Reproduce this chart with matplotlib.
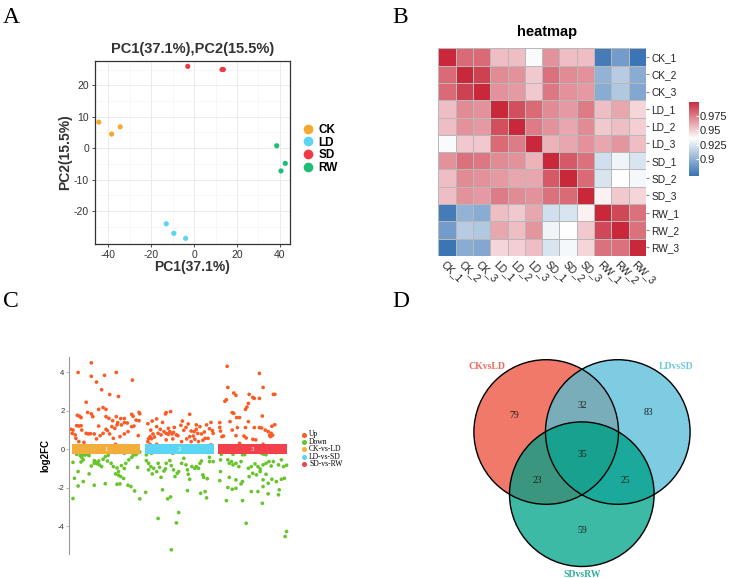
import numpy as np
import matplotlib
matplotlib.use("Agg")
import matplotlib.pyplot as plt
from matplotlib.colors import LinearSegmentedColormap, to_rgb
from matplotlib.lines import Line2D
from matplotlib.patches import Circle

plt.rcParams["font.family"] = ["Liberation Sans", "DejaVu Sans"]
plt.rcParams["axes.unicode_minus"] = False

W, H = 736, 578

# --------------------------------------------------------------------------- #
# Panel A : PCA
# --------------------------------------------------------------------------- #
pca_groups = ["CK", "LD", "SD", "RW"]
pca_colors = ["#F5A82E", "#5CD5F3", "#EE3A44", "#1FBE75"]
pca_pc1 = [[-44.5, -38.5, -34.5],
           [-13.0, -9.5, -4.0],
           [-3.0, 13.0, 13.6],
           [38.5, 42.5, 40.5]]
pca_pc2 = [[8.3, 4.5, 6.8],
           [-24.0, -27.0, -28.6],
           [26.0, 25.0, 25.0],
           [0.8, -4.8, -7.2]]

# --------------------------------------------------------------------------- #
# Panel B : sample correlation heatmap
# --------------------------------------------------------------------------- #
samples = ["CK_1", "CK_2", "CK_3", "LD_1", "LD_2", "LD_3",
           "SD_1", "SD_2", "SD_3", "RW_1", "RW_2", "RW_3"]
corr = [
    [1.000, 0.980, 0.980, 0.955, 0.955, 0.933, 0.968, 0.955, 0.955, 0.875, 0.890, 0.872],
    [0.980, 1.000, 0.992, 0.970, 0.968, 0.952, 0.978, 0.970, 0.968, 0.900, 0.912, 0.897],
    [0.980, 0.992, 1.000, 0.968, 0.966, 0.952, 0.976, 0.968, 0.966, 0.897, 0.910, 0.895],
    [0.955, 0.970, 0.968, 1.000, 0.988, 0.980, 0.970, 0.966, 0.975, 0.955, 0.962, 0.948],
    [0.955, 0.968, 0.966, 0.988, 1.000, 0.975, 0.968, 0.962, 0.970, 0.952, 0.955, 0.950],
    [0.933, 0.952, 0.952, 0.980, 0.975, 1.000, 0.958, 0.962, 0.968, 0.962, 0.967, 0.955],
    [0.968, 0.978, 0.976, 0.970, 0.968, 0.958, 1.000, 0.985, 0.978, 0.920, 0.930, 0.923],
    [0.955, 0.970, 0.968, 0.966, 0.962, 0.962, 0.985, 1.000, 0.980, 0.923, 0.935, 0.932],
    [0.955, 0.968, 0.966, 0.975, 0.970, 0.968, 0.978, 0.980, 1.000, 0.940, 0.952, 0.948],
    [0.875, 0.900, 0.897, 0.955, 0.952, 0.962, 0.920, 0.923, 0.940, 1.000, 0.990, 0.978],
    [0.890, 0.912, 0.910, 0.962, 0.955, 0.967, 0.930, 0.935, 0.952, 0.990, 1.000, 0.978],
    [0.872, 0.897, 0.895, 0.948, 0.950, 0.955, 0.923, 0.932, 0.948, 0.978, 0.978, 1.000],
]
cbar_ticks = [0.9, 0.925, 0.95, 0.975]

# --------------------------------------------------------------------------- #
# Panel C : multi-group volcano (jitter position inside group, log2FC)
# --------------------------------------------------------------------------- #
comparisons = ["CK-vs-LD", "LD-vs-SD", "SD-vs-RW"]
comp_colors = ["#F2AE3D", "#5AD6F4", "#F2414B"]

up1_x = [0.80, 0.62, 0.80, 0.98, 1.14, 0.87, 1.36, 0.94, 1.05, 1.17, 0.73, 0.61, 0.64, 0.66,
         0.75, 0.80, 0.82, 0.90, 0.96, 1.00, 1.00, 1.04, 1.09, 1.14, 1.20, 1.25, 1.29, 1.35,
         1.37, 1.45, 1.46, 1.41, 1.45, 0.52, 0.55, 0.60, 0.63, 0.66, 0.67, 0.58, 0.54, 0.59,
         0.63, 0.73, 0.76, 0.79, 0.84, 0.90, 0.92, 0.96, 1.00, 1.02, 1.05, 1.08, 1.12, 1.15,
         1.16, 1.21, 1.25, 1.25, 1.30, 1.35, 1.38, 1.44, 0.70, 1.13, 1.19, 0.87, 1.10]
up1_y = [4.50, 4.00, 3.80, 3.85, 4.00, 3.50, 3.60, 3.10, 2.85, 2.75, 2.45, 1.77, 1.72, 1.65,
         1.92, 1.84, 1.70, 2.08, 2.17, 2.08, 1.70, 1.61, 1.49, 1.70, 1.60, 1.60, 1.37, 1.82,
         1.72, 1.92, 1.85, 1.52, 1.49, 1.04, 1.00, 1.23, 1.21, 1.23, 1.00, 0.75, 0.83, 0.57,
         0.40, 0.83, 0.80, 0.81, 0.80, 1.21, 0.71, 0.83, 1.04, 0.97, 0.80, 1.18, 1.09, 1.27,
         1.39, 1.27, 1.39, 0.80, 0.92, 1.18, 1.21, 0.71, 0.36, 0.26, 0.66, 0.54, 0.57]
down1_x = [0.60, 0.65, 0.68, 0.71, 0.75, 0.77, 0.67, 0.69, 0.66, 0.55, 0.84, 0.86, 0.88, 0.90,
           0.96, 0.99, 1.03, 1.02, 1.07, 1.13, 1.10, 1.15, 1.17, 1.13, 1.17, 1.20, 1.24, 1.21,
           1.25, 1.27, 1.31, 1.35, 1.37, 1.41, 1.44, 1.46, 1.43, 0.62, 0.57, 0.62, 0.69, 0.77,
           0.84, 0.99, 1.15, 1.19, 1.30, 1.34, 1.39, 1.46, 0.55, 0.91, 0.94, 0.80, 0.84, 1.25]
down1_y = [-0.26, -0.33, -0.28, -0.30, -0.28, -0.33, -0.42, -0.55, -0.66, -0.68, -0.59, -0.68,
           -0.75, -0.61, -0.52, -0.38, -0.31, -0.61, -0.73, -0.17, -0.90, -0.97, -1.16, -1.28,
           -1.35, -1.42, -1.52, -0.85, -1.00, -0.73, -0.55, -0.42, -0.31, -0.28, -0.17, -0.14,
           -0.94, -1.16, -1.51, -1.91, -1.68, -1.28, -1.87, -1.79, -1.82, -1.80, -1.87, -1.94,
           -2.17, -2.58, -2.56, -0.81, -0.90, -0.87, -0.73, -0.21]

up2_x = [0.88, 0.82, 0.81, 0.69, 0.63, 0.57, 0.77, 0.74, 0.69, 0.61, 0.64, 0.60, 0.62, 0.58,
         0.57, 0.60, 0.66, 0.71, 0.75, 0.79, 0.82, 0.85, 0.87, 0.90, 0.92, 0.96, 0.98, 1.02,
         1.04, 1.06, 1.09, 1.14, 1.12, 1.16, 1.20, 1.19, 1.23, 1.25, 1.28, 1.30, 1.34, 1.37,
         1.41, 1.43, 1.45, 1.46, 1.39, 1.32, 1.26, 1.21, 1.16, 1.10, 1.03, 0.96, 0.91, 0.82,
         0.77, 0.69, 1.14, 0.93, 0.85, 1.35, 1.43, 1.23]
up2_y = [1.96, 1.91, 1.84, 1.58, 1.47, 1.33, 1.40, 1.04, 1.18, 1.00, 0.80, 0.66, 0.55, 0.55,
         0.40, 0.26, 0.64, 0.83, 0.75, 0.92, 0.83, 0.78, 0.92, 0.80, 0.88, 0.75, 0.71, 1.25,
         1.47, 0.99, 1.14, 1.82, 1.32, 0.95, 0.92, 0.69, 1.04, 0.83, 1.18, 0.80, 0.90, 1.27,
         1.07, 1.40, 0.97, 0.83, 0.57, 0.47, 0.40, 0.52, 0.40, 0.54, 0.40, 0.14, 0.54, 0.49,
         0.19, 0.26, 0.66, 1.14, 1.09, 0.57, 0.23, 1.27]
down2_x = [0.55, 0.62, 0.55, 0.58, 0.58, 0.61, 0.65, 0.63, 0.71, 0.69, 0.75, 0.79, 0.81, 0.87,
           0.89, 0.92, 0.94, 0.97, 0.99, 1.03, 1.06, 1.09, 1.11, 1.12, 1.14, 1.17, 1.21, 1.23,
           1.26, 1.28, 1.30, 1.32, 1.33, 1.38, 1.41, 1.41, 1.46, 0.77, 0.54, 0.84, 0.88, 1.11,
           1.29, 1.35, 1.37, 0.71, 0.99, 0.96, 0.89, 1.39, 0.91, 0.82, 0.73]
down2_y = [-0.29, -0.21, -0.59, -0.73, -1.07, -0.90, -0.99, -1.28, -0.73, -1.16, -1.46, -1.13,
           -1.02, -0.59, -0.85, -1.07, -1.42, -1.25, -1.16, -0.73, -0.47, -0.81, -1.07, -1.30,
           -1.56, -0.90, -0.99, -0.90, -0.99, -0.73, -0.61, -1.33, -1.46, -1.53, -0.42, -0.64,
           -0.64, -2.11, -2.24, -2.58, -2.48, -2.15, -2.29, -2.20, -2.53, -3.60, -3.29, -3.83,
           -5.23, -0.17, -0.21, -0.73, -0.94]

up3_x = [0.65, 1.09, 0.66, 1.14, 0.62, 0.64, 0.74, 0.77, 0.95, 1.00, 1.02, 1.09, 1.28, 1.30,
         0.94, 0.92, 0.90, 0.72, 0.74, 0.78, 0.82, 1.13, 0.55, 0.69, 0.94, 0.79, 0.90, 1.02,
         1.09, 1.12, 1.17, 1.21, 1.26, 1.30, 1.25, 1.23, 1.27, 1.24, 0.55, 0.56, 0.58, 0.60,
         0.72, 0.77, 0.82, 0.88, 0.91, 1.00, 1.04, 0.82, 1.14]
up3_y = [4.32, 3.95, 3.22, 3.22, 2.50, 2.58, 2.93, 2.81, 2.86, 2.70, 2.65, 2.65, 2.86, 2.86,
         2.39, 2.20, 2.08, 1.91, 1.87, 1.65, 1.65, 1.73, 1.39, 1.44, 1.44, 1.13, 1.13, 1.13,
         1.13, 1.11, 1.00, 0.92, 1.20, 1.28, 0.83, 0.73, 0.73, 0.66, 1.14, 0.95, 0.66, 0.69,
         1.00, 0.71, 0.31, 0.69, 0.59, 0.52, 0.49, 0.10, 0.26]
down3_x = [0.57, 0.73, 0.86, 0.89, 1.12, 1.15, 1.18, 1.32, 1.43, 0.56, 0.66, 0.68, 0.71, 0.73,
           0.77, 0.81, 0.84, 0.94, 0.98, 1.03, 1.07, 1.10, 1.14, 1.18, 1.22, 1.25, 1.28, 1.35,
           1.39, 1.42, 1.46, 0.56, 0.68, 0.77, 0.86, 0.95, 1.00, 1.05, 1.10, 1.14, 1.18, 1.21,
           1.26, 1.32, 1.39, 1.43, 0.55, 0.66, 0.72, 0.77, 0.84, 0.98, 1.07, 1.14, 1.21, 1.35,
           1.36, 0.64, 0.86, 1.13, 0.91, 1.46, 1.44]
down3_y = [-0.26, -0.26, -0.28, -0.28, -0.21, -0.26, -0.28, -0.17, -0.12, -0.55, -0.55, -0.73,
           -0.64, -0.81, -0.73, -0.90, -0.64, -0.99, -0.90, -0.76, -0.90, -1.02, -0.81, -0.73,
           -0.64, -0.87, -0.64, -0.81, -0.55, -0.90, -0.83, -1.16, -1.46, -1.59, -1.68, -1.42,
           -1.25, -1.33, -1.16, -1.59, -1.30, -1.77, -1.56, -1.68, -1.56, -1.51, -1.63, -1.99,
           -2.08, -2.03, -1.80, -2.20, -2.20, -1.94, -2.32, -2.37, -2.11, -2.67, -2.67, -2.81,
           -3.85, -4.28, -4.54]

up_x = [up1_x, up2_x, up3_x]
up_y = [up1_y, up2_y, up3_y]
down_x = [down1_x, down2_x, down3_x]
down_y = [down1_y, down2_y, down3_y]

# --------------------------------------------------------------------------- #
# Panel D : Venn counts
# --------------------------------------------------------------------------- #
venn_sets = ["CKvsLD", "LDvsSD", "SDvsRW"]
venn_set_colors = ["#F07A6A", "#7DCDE2", "#3DBAA6"]
venn_label_colors = ["#EE6A5C", "#6FC6DF", "#2FAE98"]
# only_A, only_B, only_C, A&B, A&C, B&C, A&B&C
venn_counts = [79, 83, 59, 32, 23, 25, 35]

fig = plt.figure(figsize=(W / 100, H / 100), dpi=100)


def fx(px):
    return px / W


def fy(py):
    return 1 - py / H


# panel letters
for letter, (x, y) in zip("ABCD", [(3, 23), (392, 23), (3, 307), (392, 307)]):
    fig.text(fx(x), fy(y), letter, fontsize=17, family="Liberation Serif",
             ha="left", va="baseline")

# ---------------------------- A ---------------------------------------------
ax_a = fig.add_axes([fx(94.5), fy(244), fx(290) - fx(94.5), fy(61) - fy(244)])
for g, col, xs, ys in zip(pca_groups, pca_colors, pca_pc1, pca_pc2):
    ax_a.scatter(xs, ys, s=14, color=col, edgecolors="none", zorder=3)
ax_a.set_xlim(-46.5, 44.7)
ax_a.set_ylim(-30.4, 27.7)
ax_a.set_xticks([-40, -20, 0, 20, 40])
ax_a.set_yticks([-20, -10, 0, 10, 20])
ax_a.set_xticks([-30, -10, 10, 30], minor=True)
ax_a.set_yticks([-25, -15, -5, 5, 15, 25], minor=True)
ax_a.grid(True, which="major", color="#EBEBEB", lw=0.7)
ax_a.grid(True, which="minor", color="#F4F4F4", lw=0.5)
ax_a.set_axisbelow(True)
ax_a.tick_params(which="major", labelsize=7.5, length=2.5, width=0.6,
                 colors="#333333", pad=1.5)
ax_a.tick_params(which="minor", length=0)
for sp in ax_a.spines.values():
    sp.set_color("#333333")
    sp.set_linewidth(0.9)
ax_a.set_xlabel("PC1(37.1%)", fontsize=10, fontweight="bold", color="#333333", labelpad=0)
ax_a.set_ylabel("PC2(15.5%)", fontsize=10, fontweight="bold", color="#333333", labelpad=1)
ax_a.set_title("PC1(37.1%),PC2(15.5%)", fontsize=10.5, fontweight="bold",
               color="#333333", pad=6)
handles = [Line2D([], [], marker="o", ls="", markersize=7, color=c, markeredgewidth=0)
           for c in pca_colors]
ax_a.legend(handles, pca_groups, loc="center left", bbox_to_anchor=(1.0, 0.52),
            frameon=False, handletextpad=-0.1, labelspacing=0.05, borderpad=0,
            prop={"weight": "bold", "size": 8.5})

# ---------------------------- B ---------------------------------------------
ax_b = fig.add_axes([fx(438.3), fy(256), fx(646) - fx(438.3), fy(48.3) - fy(256)])
cmap = LinearSegmentedColormap.from_list("bwr_pheat", ["#3A74B4", "#FFFFFF", "#C8283A"])
mat = np.array(corr)
ax_b.pcolormesh(mat, cmap=cmap, vmin=0.871, vmax=1.0, edgecolors="#B8B8B8", linewidth=0.7)
ax_b.set_xlim(0, len(samples))
ax_b.set_ylim(len(samples), 0)
for sp in ax_b.spines.values():
    sp.set_visible(False)
ax_b.set_yticks(np.arange(len(samples)) + 0.5)
ax_b.set_yticklabels(samples)
ax_b.yaxis.tick_right()
ax_b.tick_params(axis="y", length=2, color="#888888", labelsize=7.3, pad=2, labelcolor="#222222")
ax_b.set_xticks(np.arange(len(samples)) + 0.5)
ax_b.set_xticklabels(samples, rotation=-45, ha="left", va="top", rotation_mode="anchor")
ax_b.tick_params(axis="x", length=0, labelsize=7.3, pad=2, labelcolor="#222222")
fig.text(fx(547), fy(36), "heatmap", fontsize=10.5, fontweight="bold", ha="center",
         va="baseline")

ax_cb = fig.add_axes([fx(689), fy(176), fx(699) - fx(689), fy(101.7) - fy(176)])
grad = np.linspace(0.871, 1.0, 200).reshape(-1, 1)
ax_cb.imshow(grad, cmap=cmap, vmin=0.871, vmax=1.0, aspect="auto", origin="lower",
             extent=(0, 1, 0.871, 1.0))
ax_cb.set_xticks([])
ax_cb.yaxis.tick_right()
ax_cb.set_yticks(cbar_ticks)
ax_cb.set_yticklabels([str(t) for t in cbar_ticks])
ax_cb.tick_params(axis="y", length=2, color="white", direction="in", labelsize=8, pad=0.5,
                  labelcolor="#222222")
for sp in ax_cb.spines.values():
    sp.set_visible(False)

# ---------------------------- C ---------------------------------------------
ax_c = fig.add_axes([fx(69.3), fy(554), fx(289.5) - fx(69.3), fy(356.7) - fy(554)])
for i in range(3):
    ax_c.scatter(np.array(up_x[i]) + i, up_y[i], s=7, color="#FB5A22", edgecolors="none",
                 zorder=2)
    ax_c.scatter(np.array(down_x[i]) + i, down_y[i], s=7, color="#66C52B", edgecolors="none",
                 zorder=2)
ax_c.bar([1, 2, 3], 0.5, bottom=-0.25, width=0.94, color=comp_colors, zorder=3)
for i in range(3):
    ax_c.text(i + 1, 0, str(i + 1), color="white", fontsize=5, ha="center", va="center",
              zorder=4, family="Liberation Serif")
ax_c.set_xlim(0.5, 3.5)
ax_c.set_ylim(-5.45, 4.82)
ax_c.set_yticks([-4, -2, 0, 2, 4])
ax_c.set_xticks([])
for s in ["top", "right", "bottom"]:
    ax_c.spines[s].set_visible(False)
ax_c.spines["left"].set_color("#999999")
ax_c.spines["left"].set_linewidth(0.8)
ax_c.tick_params(axis="y", labelsize=5.5, length=2, width=0.5, color="#999999",
                 labelcolor="#333333", pad=1.5)
ax_c.set_ylabel("log2FC", fontsize=7, fontweight="bold", labelpad=5)

legend_labels = ["Up", "Down"] + comparisons
legend_colors = ["#FB5A22", "#66C52B"] + comp_colors
for k, (lab, col) in enumerate(zip(legend_labels, legend_colors)):
    yy = 434.5 + k * 7.4
    fig.lines.append(Line2D([fx(303.5)], [fy(yy)], marker="o", markersize=3.6, ls="",
                            color=col, markeredgewidth=0, transform=fig.transFigure))
    fig.text(fx(309), fy(yy), lab, fontsize=5.5, family="Liberation Serif", ha="left",
             va="center")

# ---------------------------- D ---------------------------------------------
ax_d = fig.add_axes([fx(370), 0, fx(736) - fx(370), fy(290)])
ax_d.set_xlim(370, 736)
ax_d.set_ylim(578, 290)
ax_d.axis("off")
centers = [(546.2, 432.0), (617.8, 432.0), (581.8, 494.2)]
radius = 72.3
gx = np.linspace(468, 696, 1140)
gy = np.linspace(354, 572, 1090)
XX, YY = np.meshgrid(gx, gy)
inA = (XX - centers[0][0]) ** 2 + (YY - centers[0][1]) ** 2 <= radius ** 2
inB = (XX - centers[1][0]) ** 2 + (YY - centers[1][1]) ** 2 <= radius ** 2
inC = (XX - centers[2][0]) ** 2 + (YY - centers[2][1]) ** 2 <= radius ** 2
region_cols = {
    (1, 0, 0): venn_set_colors[0], (0, 1, 0): venn_set_colors[1], (0, 0, 1): venn_set_colors[2],
    (1, 1, 0): "#79AEBA", (1, 0, 1): "#3A967E", (0, 1, 1): "#1BA99A", (1, 1, 1): "#18A28F",
}
img = np.zeros(XX.shape + (4,))
for key, col in region_cols.items():
    m = (inA == bool(key[0])) & (inB == bool(key[1])) & (inC == bool(key[2]))
    img[m, :3] = to_rgb(col)
    img[m, 3] = 1.0
ax_d.imshow(img, extent=(gx[0], gx[-1], gy[-1], gy[0]), origin="upper",
            interpolation="antialiased", zorder=1)
for c in centers:
    ax_d.add_patch(Circle(c, radius, fill=False, ec="black", lw=1.0, zorder=2))

count_pos = [(514.3, 415), (648.7, 412.3), (582, 530), (582.7, 405),
             (537.7, 480.7), (625.7, 480), (582.7, 454.3)]
for n, (px, py) in zip(venn_counts, count_pos):
    ax_d.text(px, py, str(n), fontsize=7, family="Liberation Serif", ha="center",
              va="center", color="#222222", zorder=3)
label_pos = [(487.3, 366), (675.7, 366), (582, 574)]
for name, col, (px, py) in zip(venn_sets, venn_label_colors, label_pos):
    ax_d.text(px, py, name, fontsize=7, family="Liberation Serif", fontweight="bold",
              ha="center", va="center", color=col, zorder=3)

fig.savefig("out.png", dpi=100)
